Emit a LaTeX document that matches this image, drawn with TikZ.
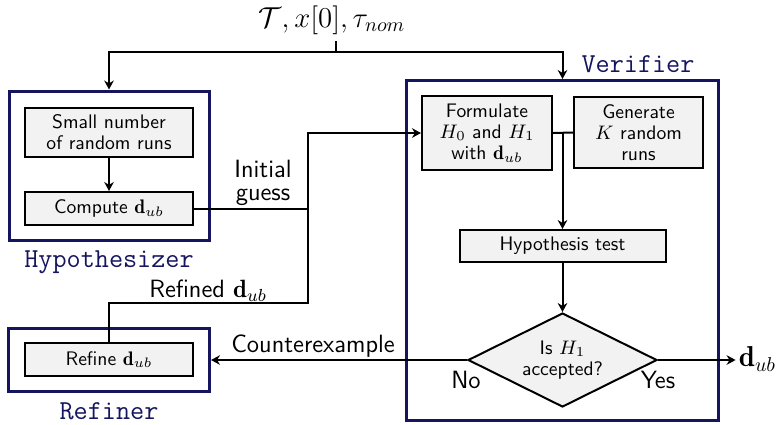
\RequirePackage{fix-cm}
\documentclass[tikz,border=0pt]{standalone}
\usepackage{fontspec}
\usetikzlibrary{shapes.geometric,arrows.meta}
\definecolor{navy}{RGB}{20,20,95}
\begin{document}
\begin{tikzpicture}[x=0.5pt, y=-0.5pt,
  conn/.style={line width=1pt},
  arr/.style={conn,-{Stealth[length=4.5pt,width=4.8pt]}},
  inbox/.style={draw, line width=1pt, fill=gray!10, inner sep=0pt, align=center,
    font=\sffamily\fontsize{9.8}{10.5}\selectfont},
  cont/.style={draw=navy, line width=1.5pt, inner sep=0pt},
  tlabel/.style={text=navy, font=\ttfamily\fontsize{13.7}{15}\selectfont},
  slabel/.style={font=\sffamily\fontsize{12.5}{11.8}\selectfont, align=center, inner sep=1pt},
  mlabel/.style={font=\fontsize{14.4}{16}\selectfont}]
\useasboundingbox (0,0) rectangle (779,424);

% containers
\node[cont, minimum width=100pt, minimum height=74.75pt] (hyp) at (109,165.75) {};
\node[cont, minimum width=100.5pt, minimum height=31.5pt] (refc) at (109,360) {};
\node[cont, minimum width=156pt, minimum height=170pt] (ver) at (562.5,250.5) {};

% container labels
\node[tlabel] (hypl) at (109,262) {Hypothesizer};
\node[tlabel] (refl) at (109,411) {Refiner};
\node[tlabel] (verl) at (638,64) {Verifier};

% inner boxes
\node[inbox, minimum width=84pt, minimum height=24.5pt] (small) at (109,132.5) {Small number\\of random runs};
\node[inbox, minimum width=84pt, minimum height=16.5pt] (comp) at (109,208.5) {Compute $\mathbf{d}_{ub}$};
\node[inbox, minimum width=84pt, minimum height=16.5pt] (refine) at (109,359.5) {Refine $\mathbf{d}_{ub}$};
\node[inbox, minimum width=65pt, minimum height=37pt] (form) at (487,133) {Formulate\\$H_0$ and $H_1$\\with $\mathbf{d}_{ub}$};
\node[inbox, minimum width=64.5pt, minimum height=35.5pt] (gen) at (638.5,132.5) {Generate\\$K$ random\\runs};
\node[inbox, minimum width=103pt, minimum height=16pt] (test) at (562.5,246) {Hypothesis test};
\node[inbox, diamond, aspect=2, minimum width=94.5pt, minimum height=47pt] (dia) at (562.5,360) {Is $H_1$\\accepted?};

% input
\node[mlabel] (in) at (332,20) {$\mathcal{T}, x[0], \tau_{nom}$};
\coordinate (j0) at (336,52);
\draw[conn] (j0 |- in.south) -- (j0);
\draw[arr] (j0) -| (hyp.north);
\draw[arr] (j0) -| (ver.north);

% hypothesizer flow
\draw[arr] (small) -- (comp);
\coordinate (j2) at (308,303);
\draw[conn] (comp.east) -- (comp.east -| j2);
\draw[arr] (refine.north) |- (j2) |- (form.west);

% verifier flow
\draw[conn] (form.east) -- (gen.west);
\draw[arr] (form.east -| test.north) -- (test.north);
\draw[arr] (test.south) -- (dia.north);
\draw[arr] (dia.west) -- (refc.east);
\node[mlabel, inner sep=1.5pt] (out) at (757.5,359) {$\mathbf{d}_{ub}$};
\draw[arr] (dia.east) -- (dia.east -| out.west);

% labels
\node[slabel] (ig) at (263,183) {Initial\\guess};
\node[slabel] (rd) at (208,291) {Refined $\mathbf{d}_{ub}$};
\node[slabel] (ce) at (313,346) {Counterexample};
\node[slabel] (no) at (466,380) {No};
\node[slabel] (yes) at (658,380) {Yes};
\end{tikzpicture}
\end{document}
